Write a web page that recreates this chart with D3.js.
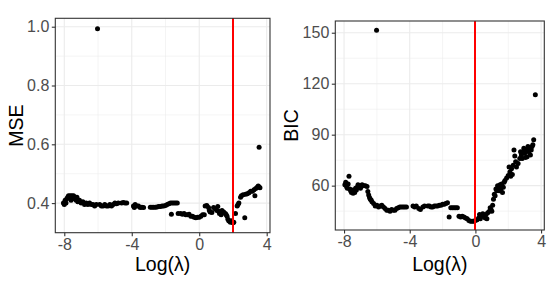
<!DOCTYPE html>
<html>
<head>
<meta charset="utf-8">
<script src="https://cdn.jsdelivr.net/npm/d3@7"></script>
<style>
  html, body { margin: 0; padding: 0; background: #ffffff; }
  svg { display: block; }
  text { font-family: "Liberation Sans", Arial, sans-serif; }
</style>
</head>
<body>
<svg id="chart" width="550" height="300"></svg>
<script>
// ---------- data ----------
const mseLogLambda = [-8.05,-8.0,-7.95,-7.9,-7.85,-7.8,-7.75,-7.7,-7.65,-7.6,-7.55,-7.5,-7.45,-7.4,-7.35,-7.3,-7.25,-7.2,-7.1,-7.0,-6.9,-6.8,-6.7,-6.6,-6.5,-6.4,-6.3,-6.2,-6.1,-6.03,-5.9,-5.8,-5.7,-5.6,-5.5,-5.4,-5.3,-5.2,-5.1,-5.0,-4.9,-4.8,-4.6,-4.5,-4.4,-4.3,-3.9,-3.85,-3.8,-3.7,-3.6,-3.5,-3.4,-3.3,-2.9,-2.8,-2.7,-2.6,-2.5,-2.4,-2.3,-2.2,-2.1,-2.0,-1.9,-1.8,-1.7,-1.6,-1.5,-1.4,-1.3,-1.65,-1.25,-1.1,-1.0,-0.9,-0.8,-0.7,-0.6,-0.5,-0.4,-0.3,-0.2,-0.1,0.0,0.1,0.2,0.3,0.35,0.45,0.55,0.6,0.65,0.75,0.85,0.95,1.05,1.1,1.15,1.2,1.3,1.35,1.45,1.55,1.6,1.65,1.7,1.75,1.8,1.85,1.9,2.0,2.05,2.15,2.25,2.3,2.35,2.45,2.5,2.6,2.7,2.75,2.85,2.95,3.05,3.15,3.25,3.3,3.35,3.45,3.5,3.55,3.6,3.55];
const mseValues = [0.400,0.395,0.410,0.400,0.415,0.420,0.425,0.420,0.425,0.410,0.425,0.420,0.425,0.415,0.420,0.410,0.420,0.405,0.410,0.400,0.405,0.395,0.400,0.395,0.400,0.395,0.395,0.390,0.395,0.993,0.395,0.390,0.390,0.395,0.390,0.390,0.395,0.390,0.395,0.400,0.398,0.400,0.400,0.402,0.400,0.400,0.390,0.385,0.395,0.390,0.390,0.385,0.386,0.385,0.386,0.386,0.386,0.386,0.387,0.388,0.388,0.390,0.390,0.392,0.395,0.398,0.400,0.400,0.400,0.400,0.400,0.362,0.365,0.365,0.362,0.365,0.360,0.360,0.362,0.355,0.355,0.352,0.350,0.352,0.352,0.355,0.360,0.360,0.390,0.392,0.385,0.375,0.370,0.368,0.385,0.380,0.375,0.388,0.372,0.365,0.360,0.375,0.370,0.365,0.360,0.355,0.345,0.340,0.338,0.335,0.340,0.333,0.335,0.365,0.390,0.395,0.400,0.420,0.425,0.428,0.350,0.430,0.432,0.435,0.440,0.440,0.445,0.425,0.450,0.455,0.458,0.455,0.452,0.590];

const bicLogLambda = [-7.95,-7.9,-7.85,-7.8,-7.7,-7.75,-7.65,-7.6,-7.55,-7.5,-7.45,-7.4,-7.35,-7.3,-7.25,-7.2,-7.15,-7.1,-7.05,-7.0,-6.95,-6.9,-6.8,-6.7,-6.6,-6.55,-6.5,-6.45,-6.4,-6.35,-6.3,-6.2,-6.1,-6.02,-6.0,-5.9,-5.8,-5.7,-5.6,-5.5,-5.4,-5.3,-5.2,-5.1,-5.0,-4.9,-4.8,-4.7,-4.6,-4.5,-4.4,-4.3,-4.2,-3.8,-3.7,-3.6,-3.45,-3.35,-3.2,-3.1,-2.9,-2.8,-2.7,-2.6,-2.5,-2.4,-2.3,-2.2,-2.1,-2.0,-1.9,-1.8,-1.7,-1.6,-1.5,-1.4,-1.3,-1.2,-1.1,-1.0,-0.9,-0.8,-0.7,-0.6,-0.5,-0.4,-0.3,-0.2,-0.1,0.0,0.1,0.2,0.25,0.3,0.4,0.45,0.5,0.6,0.65,0.7,0.75,0.85,0.9,0.95,1.0,1.05,1.1,1.15,1.2,1.25,1.3,1.35,1.4,1.45,1.5,1.55,1.6,1.65,1.7,1.75,1.8,1.9,2.0,2.05,2.1,2.15,2.2,2.25,2.3,2.35,2.4,2.45,2.5,2.6,2.7,2.75,2.8,2.85,2.9,2.95,3.0,3.05,3.1,3.15,3.2,3.25,3.3,3.35,3.4,3.45,3.5,3.55,3.65];
const bicValues = [60.5,62,59.5,58.5,65.5,61,58,57,56,57.5,55.5,57,56,58.5,57.5,59,60.5,59,60,58.5,60,60.5,60,60,59.5,56.5,54.5,53,52,51.5,50.5,49.5,48,151.5,48.5,47.5,48,48.5,47.5,46.5,45.5,45.5,45,46,45.5,45.5,46.5,47,47.5,47.5,47.5,47.5,47.5,48,47.5,48,46.5,46,47.5,48,48,48,47.5,47.5,48,48,48,48.5,48.5,49,49,49.5,50,41.5,47,47,47,47,47,42,41.5,42,41.5,41,40.5,39.5,39,39,39,39.5,40,41,43,40.5,42,43.5,42,41,43,40.5,44,45,47,46,45,48.5,52,55,54,58,57,60,59,57,60.5,58,61,56,59,62,63,64.5,66,71,68,65.5,70,66.5,72,81,77.5,74,71,73,76,80,78,76,80,82,79,76.5,81,77,83,80,82,78,81,83,84,87,113.5];

const xTicks = [-8, -4, 0, 4];
const xTickLabels = ["-8", "-4", "0", "4"];
const xMinor = [-6, -2, 2];
const mseTicks = [0.4, 0.6, 0.8, 1.0];
const mseTickLabels = ["0.4", "0.6", "0.8", "1.0"];
const mseMinor = [0.3, 0.5, 0.7, 0.9];
const bicTicks = [60, 90, 120, 150];
const bicTickLabels = ["60", "90", "120", "150"];
const bicMinor = [45, 75, 105, 135];
const mseCutoff = 2;
const bicCutoff = 0;

// ---------- drawing ----------
const svg = d3.select("#chart");

function panel(cfg) {
  const x = d3.scaleLinear().domain(cfg.xDomain).range([cfg.left, cfg.right]);
  const y = d3.scaleLinear().domain(cfg.yDomain).range([cfg.bottom, cfg.top]);
  const g = svg.append("g");
  const grid = "#EBEBEB";

  // minor grid
  g.selectAll(".vminor").data(cfg.xMinor).enter().append("line")
    .attr("x1", d => x(d)).attr("x2", d => x(d))
    .attr("y1", cfg.top).attr("y2", cfg.bottom)
    .attr("stroke", grid).attr("stroke-width", 0.55);
  g.selectAll(".hminor").data(cfg.yMinor.filter(v => v > cfg.yDomain[0] && v < cfg.yDomain[1])).enter().append("line")
    .attr("y1", d => y(d)).attr("y2", d => y(d))
    .attr("x1", cfg.left).attr("x2", cfg.right)
    .attr("stroke", grid).attr("stroke-width", 0.55);
  // major grid
  g.selectAll(".vmajor").data(cfg.xTicks).enter().append("line")
    .attr("x1", d => x(d)).attr("x2", d => x(d))
    .attr("y1", cfg.top).attr("y2", cfg.bottom)
    .attr("stroke", grid).attr("stroke-width", 1.1);
  g.selectAll(".hmajor").data(cfg.yTicks).enter().append("line")
    .attr("y1", d => y(d)).attr("y2", d => y(d))
    .attr("x1", cfg.left).attr("x2", cfg.right)
    .attr("stroke", grid).attr("stroke-width", 1.1);

  // points
  const pts = cfg.xs.map((v, i) => [v, cfg.ys[i]]);
  g.selectAll(".pt").data(pts).enter().append("circle")
    .attr("cx", d => x(d[0])).attr("cy", d => y(d[1]))
    .attr("r", 2.5).attr("fill", "#000000");

  // cutoff line
  const cx = Math.round(x(cfg.cut));
  g.append("line")
    .attr("x1", cx).attr("x2", cx)
    .attr("y1", cfg.top).attr("y2", cfg.bottom)
    .attr("stroke", "#FF0000").attr("stroke-width", 1.5)
    .attr("shape-rendering", "crispEdges");

  // border
  g.append("rect")
    .attr("x", cfg.left).attr("y", cfg.top)
    .attr("width", cfg.right - cfg.left).attr("height", cfg.bottom - cfg.top)
    .attr("fill", "none").attr("stroke", "#333333").attr("stroke-width", 1.1);

  // axes
  const xAxis = d3.axisBottom(x).tickValues(cfg.xTicks)
    .tickFormat((d, i) => cfg.xTickLabels[i]).tickSize(3.5).tickPadding(2.5);
  const xa = g.append("g").attr("transform", `translate(0,${cfg.bottom})`).call(xAxis);
  const yAxis = d3.axisLeft(y).tickValues(cfg.yTicks)
    .tickFormat((d, i) => cfg.yTickLabels[i]).tickSize(3.5).tickPadding(2.5);
  const ya = g.append("g").attr("transform", `translate(${cfg.left},0)`).call(yAxis);
  [xa, ya].forEach(a => {
    a.select(".domain").remove();
    a.selectAll(".tick line").attr("stroke", "#333333").attr("stroke-width", 1.1);
    a.selectAll(".tick text").attr("fill", "#4D4D4D")
      .style("font-size", "16px").style("font-family", "'Liberation Sans', Arial, sans-serif");
  });

  // titles
  g.append("text")
    .attr("x", (cfg.left + cfg.right) / 2).attr("y", 271)
    .attr("text-anchor", "middle").attr("fill", "#000000")
    .style("font-size", "19.5px")
    .text("Log(λ)");
  g.append("text")
    .attr("transform", `translate(${cfg.yTitleX},${(cfg.top + cfg.bottom) / 2}) rotate(-90)`)
    .attr("text-anchor", "middle").attr("fill", "#000000")
    .style("font-size", "19.5px")
    .text(cfg.yTitle);
}

panel({
  left: 55.3, right: 270, top: 18.3, bottom: 232.7,
  xDomain: [-8.533, 4.196], yDomain: [0.2993, 1.0286],
  xTicks, xTickLabels, xMinor,
  yTicks: mseTicks, yTickLabels: mseTickLabels, yMinor: mseMinor,
  xs: mseLogLambda, ys: mseValues, cut: mseCutoff,
  yTitle: "MSE", yTitleX: 22.5
});

panel({
  left: 335.3, right: 544.3, top: 21, bottom: 230,
  xDomain: [-8.533, 4.196], yDomain: [33.9, 156.9],
  xTicks, xTickLabels, xMinor,
  yTicks: bicTicks, yTickLabels: bicTickLabels, yMinor: bicMinor,
  xs: bicLogLambda, ys: bicValues, cut: bicCutoff,
  yTitle: "BIC", yTitleX: 297.5
});
</script>
</body>
</html>
